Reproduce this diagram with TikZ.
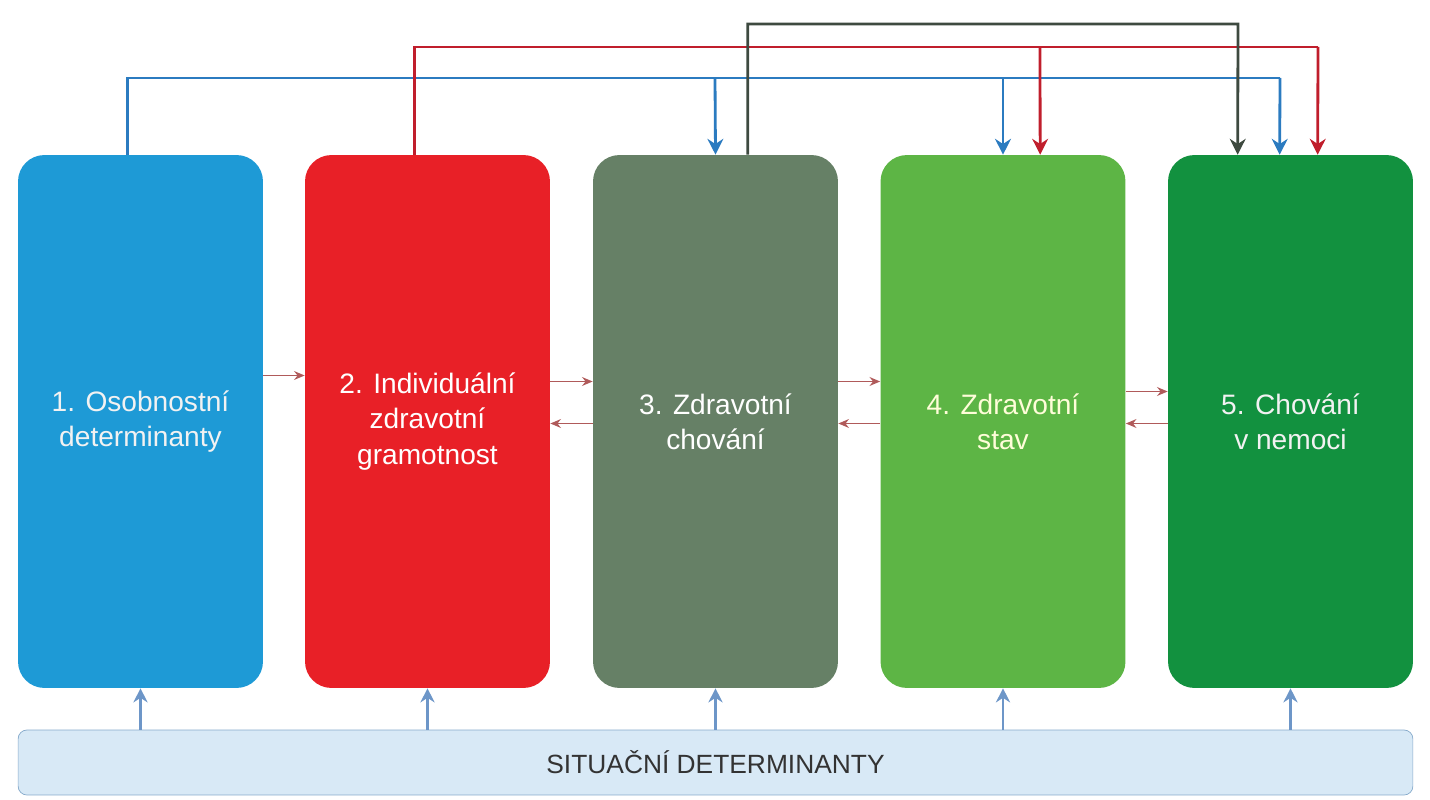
\documentclass[tikz,border=0pt]{standalone}
\usepackage{fontspec}
\setmainfont{Liberation Sans}
\usetikzlibrary{positioning,calc,arrows.meta}
\definecolor{cOne}{HTML}{1E9AD6}
\definecolor{cTwo}{HTML}{E82027}
\definecolor{cThree}{HTML}{668066}
\definecolor{cFour}{HTML}{5DB545}
\definecolor{cFive}{HTML}{12913F}
\definecolor{lBlue}{HTML}{2B7BC0}
\definecolor{lRed}{HTML}{C01E2C}
\definecolor{lGray}{HTML}{3E4A40}
\definecolor{lSmall}{HTML}{B05A5A}
\definecolor{lUp}{HTML}{6D96C8}
\definecolor{barFill}{HTML}{D8E9F6}
\definecolor{barLine}{HTML}{86AACB}
\tikzset{
  stagebox/.style={rounded corners=15pt, minimum width=4.9cm, minimum height=10.66cm,
    align=center, font=\fontsize{16}{20}\selectfont, inner sep=0pt},
  toparrow/.style={line width=1.6pt, -{Stealth[length=9pt,width=9pt]}},
  sidearrow/.style={lSmall, line width=1pt, -{Stealth[length=6pt,width=5pt]}},
  uparrow/.style={lUp, line width=1.6pt, -{Stealth[length=8pt,width=8pt]}}
}
\begin{document}
\begin{tikzpicture}[x=0.02cm,y=-0.02cm]
    \useasboundingbox (0,0) rectangle (1430,800);
    % stages
    \node[stagebox, fill=cOne, text=white!90!gray] (b1) at (140.5,421.5) {1. Osobnostní\\determinanty};
    \node[stagebox, fill=cTwo, text=white] (b2) at (427.5,421.5) {2. Individuální\\zdravotní\\gramotnost};
    \node[stagebox, fill=cThree, text=white] (b3) at (715.5,421.5) {3. Zdravotní\\chování};
    \node[stagebox, fill=cFour, text=yellow!15!white] (b4) at (1003,421.5) {4. Zdravotní\\stav};
    \node[stagebox, fill=cFive, text=white!90!gray] (b5) at (1290.5,421.5) {5. Chování\\v nemoci};
    % situational bar
    \node[draw=barLine, fill=barFill, rounded corners=5pt, minimum width=27.9cm, minimum height=1.3cm,
      font=\fontsize{15}{18}\selectfont, text=black!80] (sit) at (715.5,762.5) {SITUAČNÍ DETERMINANTY};
    % blue feedback
    \draw[lBlue, line width=1.6pt] ($(b1.north west)+(110,0)$) |- (1280,78);
    \draw[lBlue, toparrow] (1280,78) -- ($(b5.north west)+(112,0)$);
    \draw[lBlue, toparrow] (715,78) -- (b3.north);
    \draw[lBlue, toparrow] (1003,78) -- (b4.north);
    % red feedback
    \draw[lRed, line width=1.6pt] ($(b2.north west)+(110,0)$) |- (1318,47);
    \draw[lRed, toparrow] (1318,47) -- ($(b5.north west)+(150,0)$);
    \draw[lRed, toparrow] (1040,47) -- ($(b4.north west)+(160,0)$);
    % gray feedback
    \draw[lGray, toparrow] ($(b3.north west)+(155,0)$) |- (1238,24) -- ($(b5.north west)+(70,0)$);
    % side arrows
    \draw[sidearrow] ($(b1.east)+(0,-46)$) -- ($(b2.west)+(0,-46)$);
    \draw[sidearrow] ($(b2.east)+(0,-40)$) -- ($(b3.west)+(0,-40)$);
    \draw[sidearrow] ($(b3.west)+(0,2)$) -- ($(b2.east)+(0,2)$);
    \draw[sidearrow] ($(b3.east)+(0,-40)$) -- ($(b4.west)+(0,-40)$);
    \draw[sidearrow] ($(b4.west)+(0,2)$) -- ($(b3.east)+(0,2)$);
    \draw[sidearrow] ($(b4.east)+(0,-30)$) -- ($(b5.west)+(0,-30)$);
    \draw[sidearrow] ($(b5.west)+(0,2)$) -- ($(b4.east)+(0,2)$);
    % situational influence
    \foreach \b in {b1,b2,b3,b4,b5}
      \draw[uparrow] (sit.north -| \b.south) -- (\b.south);
\end{tikzpicture}
\end{document}
